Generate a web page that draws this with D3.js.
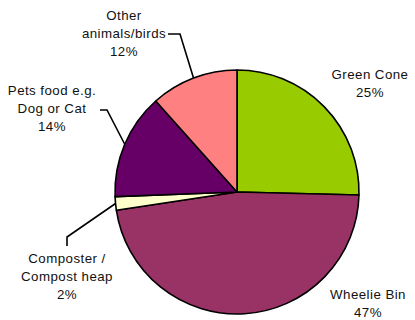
<!DOCTYPE html>
<html>
<head>
<meta charset="utf-8">
<script src="https://cdn.jsdelivr.net/npm/d3@7"></script>
<style>
html,body{margin:0;padding:0;background:#fff;}
svg{display:block;}
text{font-family:"Liberation Sans",Arial,sans-serif;font-size:13.3px;letter-spacing:0.45px;fill:#111;}
</style>
</head>
<body>
<script>
const categories = ["Green Cone", "Wheelie Bin", "Composter / Compost heap", "Pets food e.g. Dog or Cat", "Other animals/birds"];
const values = [25.4, 47.2, 1.8, 14.0, 11.6];
const percentLabels = ["25%", "47%", "2%", "14%", "12%"];
const labelLines = [["Green Cone"], ["Wheelie Bin"], ["Composter /", "Compost heap"], ["Pets food e.g.", "Dog or Cat"], ["Other", "animals/birds"]];
const colors = ["#99CC00", "#993366", "#FFFFCC", "#660066", "#FF8080"];

const W = 415, H = 320;
const cx = 237, cy = 192, R = 122;

// label anchor positions (center x, first baseline y)
const labelPos = [
  {x: 370, y: 79},
  {x: 368, y: 299},
  {x: 67, y: 263},
  {x: 52, y: 95},
  {x: 124, y: 20}
];
const lineStep = 17.8;

const svg = d3.select("body").append("svg").attr("width", W).attr("height", H);

const pie = d3.pie().sort(null).value(d => d)(values);
const arc = d3.arc().innerRadius(0).outerRadius(R);
const g = svg.append("g").attr("transform", `translate(${cx},${cy})`);

g.selectAll("path.slice").data(pie).join("path")
  .attr("class", "slice")
  .attr("d", arc)
  .attr("fill", (d, i) => colors[i])
  .attr("stroke", "#000")
  .attr("stroke-width", 1.6)
  .attr("stroke-linejoin", "round");

const outer = d3.arc().innerRadius(R).outerRadius(R);
function edgePoint(i) {
  const c = outer.centroid(pie[i]);
  return [cx + c[0], cy + c[1]];
}
const leaders = [
  {i: 4, pts: [[168, 34], [180, 34]]},
  {i: 3, pts: [[100, 110], [107, 110]]},
  {i: 2, pts: [[67, 246], [67, 237]]}
];
leaders.forEach(l => {
  const p = l.pts.concat([edgePoint(l.i)]);
  svg.append("path")
    .attr("d", d3.line()(p))
    .attr("fill", "none")
    .attr("stroke", "#000")
    .attr("stroke-width", 1.6);
});

labelLines.forEach((lines, i) => {
  const t = svg.append("text").attr("text-anchor", "middle");
  const all = lines.concat([percentLabels[i]]);
  all.forEach((s, k) => {
    t.append("tspan").attr("x", labelPos[i].x).attr("y", labelPos[i].y + k * lineStep).text(s);
  });
});
</script>
</body>
</html>
